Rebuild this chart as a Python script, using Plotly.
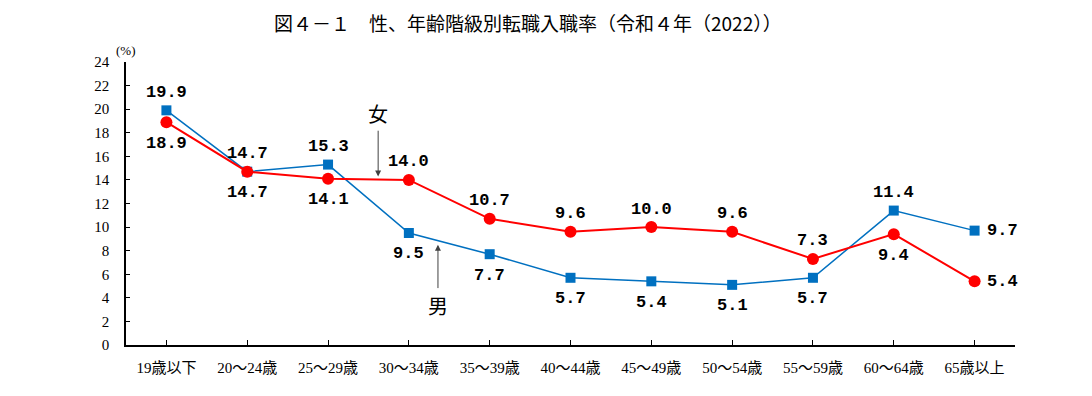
import plotly.graph_objects as go

categories = ["19歳以下", "20～24歳", "25～29歳", "30～34歳", "35～39歳", "40～44歳",
              "45～49歳", "50～54歳", "55～59歳", "60～64歳", "65歳以上"]
male = [19.9, 14.7, 15.3, 9.5, 7.7, 5.7, 5.4, 5.1, 5.7, 11.4, 9.7]
female = [18.9, 14.7, 14.1, 14.0, 10.7, 9.6, 10.0, 9.6, 7.3, 9.4, 5.4]
male_pos = ["above", "above", "above", "below", "below", "below", "below", "below", "below", "above", "right"]
female_pos = ["below", "below", "below", "above", "above", "above", "above", "above", "above", "below", "right"]
yticks = list(range(0, 25, 2))
title_text = "図４－１　性、年齢階級別転職入職率（令和４年（2022））"

BLUE = "#0070C0"
RED = "#FF0000"
SERIF = "Liberation Serif, Noto Sans CJK JP"
LABEL_FONT = dict(family="Liberation Mono, Noto Sans CJK JP", size=17, color="black", weight="bold")

fig = go.Figure()
fig.add_trace(go.Scatter(x=list(range(len(categories))), y=male, mode="lines+markers",
                         line=dict(color=BLUE, width=1.5),
                         marker=dict(symbol="square", size=10, color=BLUE), name="男"))
fig.add_trace(go.Scatter(x=list(range(len(categories))), y=female, mode="lines+markers",
                         line=dict(color=RED, width=2),
                         marker=dict(symbol="circle", size=12, color=RED), name="女"))

anns = []
def add_labels(vals, poss):
    for i, (v, p) in enumerate(zip(vals, poss)):
        xs, ys, xa = 0, 0, "center"
        if p == "above":
            ys = 18
        elif p == "below":
            ys = -21
        else:
            xa = "left"
            xs = 10
        anns.append(dict(x=i, y=v, text=f"{v:.1f}", showarrow=False, xanchor=xa,
                         xshift=xs, yshift=ys, font=LABEL_FONT))
add_labels(male, male_pos)
add_labels(female, female_pos)

# series pointers
anns.append(dict(x=2.62, y=14.3, ax=2.62, ay=18.3, xref="x", yref="y", axref="x", ayref="y",
                 showarrow=True, arrowhead=2, arrowsize=1.2, arrowwidth=1, arrowcolor="#404040", text=""))
anns.append(dict(x=2.62, y=19.5, text="女", showarrow=False,
                 font=dict(family=SERIF, size=20, color="black")))
anns.append(dict(x=3.36, y=8.5, ax=3.36, ay=4.7, xref="x", yref="y", axref="x", ayref="y",
                 showarrow=True, arrowhead=2, arrowsize=1.2, arrowwidth=1, arrowcolor="#404040", text=""))
anns.append(dict(x=3.36, y=3.2, text="男", showarrow=False,
                 font=dict(family=SERIF, size=20, color="black")))
anns.append(dict(x=0, y=24, xref="paper", yref="y", text="(%)", showarrow=False,
                 xanchor="center", yanchor="bottom", yshift=2,
                 font=dict(family=SERIF, size=13, color="black")))
# title as annotation
anns.append(dict(x=0.452, y=1.141, xref="paper", yref="paper", text=title_text, showarrow=False,
                 xanchor="center", yanchor="middle",
                 font=dict(family="Noto Sans CJK JP", size=19, color="black")))

fig.update_layout(
    width=1084, height=388,
    margin=dict(l=118, r=77, t=54, b=51, autoexpand=False),
    paper_bgcolor="white", plot_bgcolor="white",
    showlegend=False,
    annotations=anns,
    xaxis=dict(range=[-0.5, 10.5], tickmode="array", tickvals=list(range(len(categories))),
               ticktext=categories, showgrid=False, zeroline=False,
               showline=True, linecolor="black", linewidth=1.5,
               ticks="inside", ticklen=5, tickcolor="black",
               ticklabelstandoff=8,
               tickfont=dict(family=SERIF, size=15, color="black")),
    yaxis=dict(range=[0, 24], tickmode="array", tickvals=yticks, showgrid=False, zeroline=False,
               showline=True, linecolor="black", linewidth=1.5,
               ticks="inside", ticklen=4, tickcolor="black",
               ticklabelstandoff=12,
               tickfont=dict(family=SERIF, size=15, color="black")),
)
fig.write_html("out.html")
